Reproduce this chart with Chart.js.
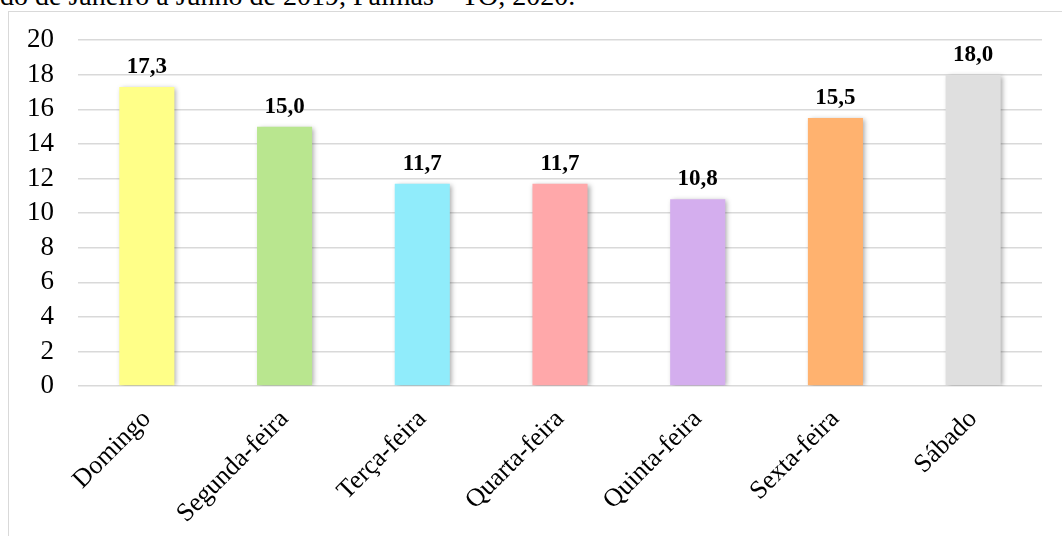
<!DOCTYPE html>
<html>
<head>
<meta charset="utf-8">
<script src="https://cdn.jsdelivr.net/npm/chart.js@4/dist/chart.umd.min.js"></script>
<style>
  html, body { margin: 0; padding: 0; background: #fff; overflow: hidden; }
  .caption {
    position: absolute; left: 0; top: -18px;
    font-family: "Liberation Serif", serif; font-size: 28px; line-height: 28px; color: #000;
    white-space: nowrap;
  }
  .frame {
    position: absolute; left: 8px; top: 11px; width: 1070px; height: 540px;
    border: 1px solid #d9d9d9; box-sizing: border-box;
  }
  #wrap { position: absolute; left: 0; top: 0; width: 1062px; height: 536px; }
</style>
</head>
<body>
<div class="caption">do de Janeiro a Junho de 2019, Palmas – TO, 2020.</div>
<div class="frame"></div>
<div id="wrap"><canvas id="diasChart"></canvas></div>
<script>
const dias = ["Domingo", "Segunda-feira", "Terça-feira", "Quarta-feira", "Quinta-feira", "Sexta-feira", "Sábado"];
const percentuais = [17.3, 15.0, 11.7, 11.7, 10.8, 15.5, 18.0];
const coresBarras = ["#ffff88", "#b9e68f", "#90ecfb", "#ffa8aa", "#d4aeee", "#ffb26f", "#dfdfdf"];
const yTicks = [0, 2, 4, 6, 8, 10, 12, 14, 16, 18, 20];

const serif = "'Liberation Serif', 'Times New Roman', serif";

// sombra leve nas barras
let barShadow = {
  id: "barShadow",
  beforeDatasetDraw(chart) {
    const ctx = chart.ctx;
    ctx.save();
    ctx.shadowColor = "rgba(0,0,0,0.35)";
    ctx.shadowBlur = 5;
    ctx.shadowOffsetX = 2;
    ctx.shadowOffsetY = 1;
  },
  afterDatasetDraw(chart) {
    chart.ctx.restore();
  },
};

// rótulos de valor acima das barras
let valueLabels = {
  id: "valueLabels",
  afterDatasetsDraw(chart) {
    const ctx = chart.ctx;
    const meta = chart.getDatasetMeta(0);
    ctx.save();
    ctx.font = "bold 23px " + serif;
    ctx.fillStyle = "#000";
    ctx.textAlign = "center";
    ctx.textBaseline = "alphabetic";
    meta.data.forEach((bar, i) => {
      let txt = percentuais[i].toFixed(1).replace(".", ",");
      ctx.fillText(txt, bar.x, bar.y - 14);
    });
    ctx.restore();
  },
};

new Chart(document.getElementById("diasChart"), {
  type: "bar",
  data: {
    labels: dias,
    datasets: [
      {
        data: percentuais,
        backgroundColor: coresBarras,
        borderWidth: 0,
        barPercentage: 0.4,
        categoryPercentage: 1,
      },
    ],
  },
  options: {
    responsive: true,
    maintainAspectRatio: false,
    animation: false,
    layout: { padding: { left: 20, right: 20, top: 40, bottom: 0 } },
    plugins: {
      legend: { display: false },
      tooltip: { enabled: false },
    },
    scales: {
      x: {
        grid: { display: false, drawTicks: false },
        border: { display: false },
        ticks: {
          color: "#000",
          font: { family: serif, size: 26 },
          minRotation: 45,
          maxRotation: 45,
          autoSkip: false,
          padding: 18,
        },
        afterFit: (scale) => { scale.height = 150; },
      },
      y: {
        min: 0,
        max: 20,
        afterBuildTicks: (scale) => { scale.ticks = yTicks.map((v) => ({ value: v })); },
        grid: { color: "#d9d9d9", lineWidth: 1.5, drawTicks: false },
        border: { display: false },
        ticks: {
          color: "#000",
          font: { family: serif, size: 27 },
          autoSkip: false,
          padding: 24,
        },
        afterFit: (scale) => { scale.width = 58; },
      },
    },
  },
  plugins: [barShadow, valueLabels],
});
</script>
</body>
</html>
